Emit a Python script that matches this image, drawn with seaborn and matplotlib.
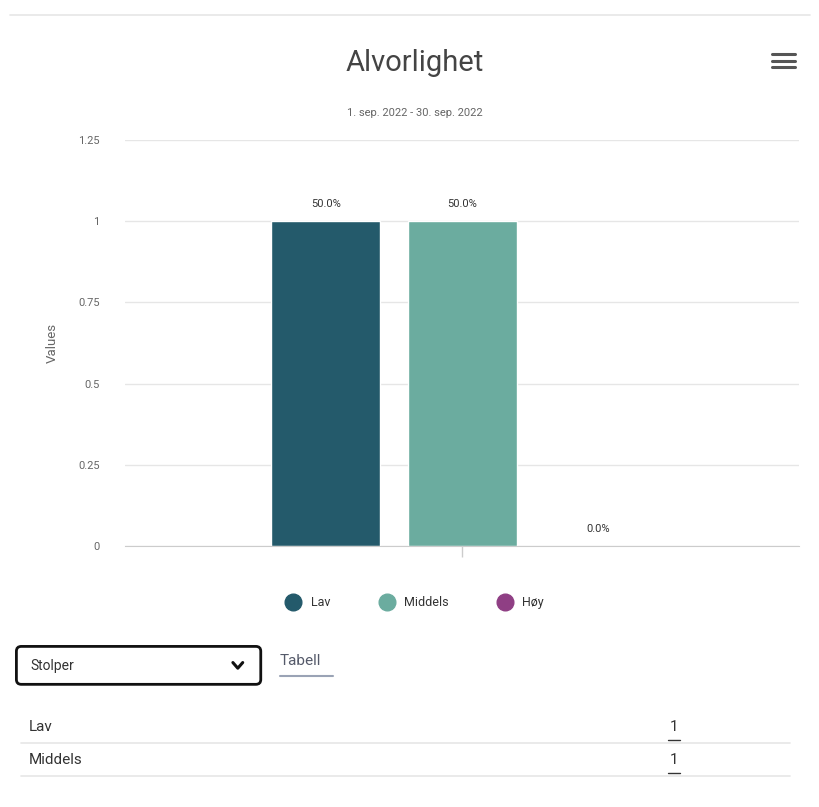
import seaborn as sns
import pandas as pd
from matplotlib import pyplot as plt
from matplotlib.lines import Line2D
from matplotlib.patches import FancyBboxPatch

categories = ['Lav', 'Middels', 'Høy']
values = [1, 1, 0]
colors = ['#245a6b', '#6bac9f', '#8f3f84']
y_ticks = [0, 0.25, 0.5, 0.75, 1, 1.25]
y_ticklabels = ['0', '0.25', '0.5', '0.75', '1', '1.25']
table_rows = ['Lav', 'Middels']
table_counts = ['1', '1']

sns.set_style('white')
plt.rcParams['font.family'] = ['Roboto', 'DejaVu Sans']

df = pd.DataFrame({'group': [''] * len(categories), 'severity': categories, 'value': values})
total = sum(values)

fig = plt.figure(figsize=(8.2, 8.07), dpi=100)
ax = fig.add_axes([0.152, 0.3234, 0.823, 0.5031])

sns.barplot(data=df, x='group', y='value', hue='severity', hue_order=categories,
            palette=colors, width=0.8, gap=0.2, saturation=1, legend=False, ax=ax)

for cont, v in zip(ax.containers, values):
    ax.bar_label(cont, labels=[f'{v / total * 100:.1f}%'], padding=9,
                 fontsize=8, color='#333333')

ax.set_xlim(-0.66, 0.66)
ax.set_ylim(0, 1.25)
ax.set_yticks(y_ticks)
ax.set_yticklabels(y_ticklabels, fontsize=8, color='#666666')
ax.tick_params(axis='y', length=0, pad=18)
ax.tick_params(axis='x', bottom=True, length=8, width=1, color='#cccccc', labelsize=0)
ax.grid(axis='y', color='#e6e6e6', linewidth=1)
ax.set_axisbelow(True)
for s in ['top', 'right', 'left']:
    ax.spines[s].set_visible(False)
ax.spines['bottom'].set_color('#cccccc')
ax.set_xlabel('')
ax.set_ylabel('Values', fontsize=9.5, color='#666666', labelpad=14)

# title block
fig.add_artist(Line2D([0.012, 0.988], [0.981, 0.981], color='#e6e6e6', linewidth=1.2))
fig.text(0.506, 0.922, 'Alvorlighet', ha='center', va='center', fontsize=21, color='#444444')
fig.text(0.506, 0.860, '1. sep. 2022 - 30. sep. 2022', ha='center', va='center',
         fontsize=8, color='#666666')
for yy in [0.933, 0.925, 0.917]:
    fig.add_artist(Line2D([0.942, 0.970], [yy, yy], color='#555555', linewidth=2.2))

# legend
handles = [Line2D([], [], marker='o', linestyle='', markersize=12,
                  markerfacecolor=c, markeredgecolor=c) for c in colors]
fig.legend(handles, categories, loc='center', bbox_to_anchor=(0.503, 0.253), ncol=3,
           frameon=False, fontsize=9, handletextpad=0.4, columnspacing=3.5,
           labelcolor='#333333')

# controls below the chart
fig.add_artist(FancyBboxPatch((0.02, 0.152), 0.298, 0.047, boxstyle='round,pad=0,rounding_size=0.006',
                              transform=fig.transFigure, facecolor='white',
                              edgecolor='#111111', linewidth=2))
fig.text(0.037, 0.175, 'Stolper', ha='left', va='center', fontsize=10, color='#333333')
fig.add_artist(Line2D([0.284, 0.290, 0.296], [0.179, 0.172, 0.179], color='#111111', linewidth=2.2))
fig.text(0.341, 0.181, 'Tabell', ha='left', va='center', fontsize=11, color='#555a6a')
fig.add_artist(Line2D([0.341, 0.406], [0.162, 0.162], color='#9aa3b5', linewidth=1.5))

row_y = [0.099, 0.058]
for name, cnt, yy in zip(table_rows, table_counts, row_y):
    fig.text(0.035, yy, name, ha='left', va='center', fontsize=11, color='#333333')
    fig.text(0.822, yy, cnt, ha='center', va='center', fontsize=11, color='#333333')
    fig.add_artist(Line2D([0.822 - 0.007, 0.822 + 0.007], [yy - 0.016, yy - 0.016],
                          color='#333333', linewidth=1))
    fig.add_artist(Line2D([0.025, 0.963], [yy - 0.020, yy - 0.020], color='#e6e6e6', linewidth=1.2))

fig.savefig('out.png', dpi=100, facecolor='white')
